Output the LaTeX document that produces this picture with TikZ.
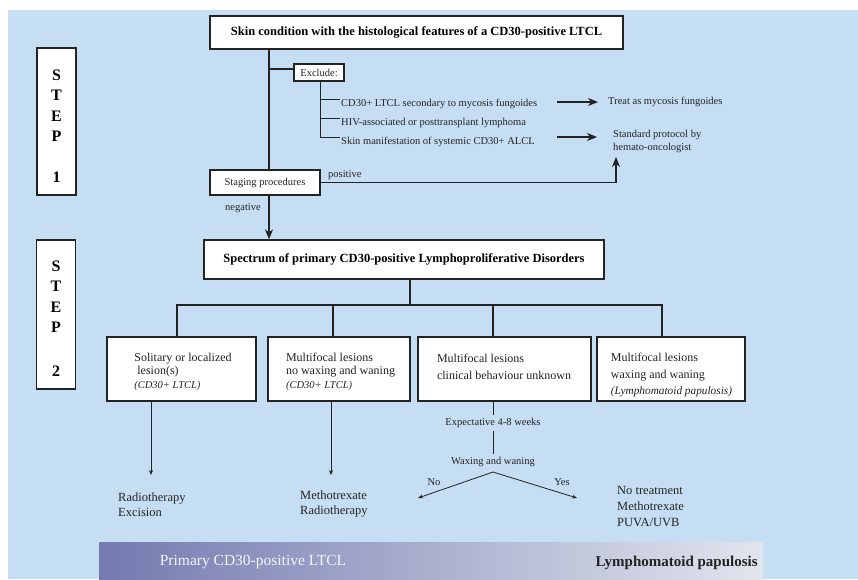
\documentclass[tikz,border=0pt]{standalone}
\usepackage{fontspec}
\setmainfont{Liberation Serif}
\usetikzlibrary{arrows.meta}
\definecolor{bgblue}{RGB}{197,222,243}
\definecolor{barL}{RGB}{116,122,176}
\definecolor{barR}{RGB}{226,229,237}
\definecolor{ink}{RGB}{35,35,35}
\begin{document}
\begin{tikzpicture}[x=1pt,y=-1pt,
  box/.style={draw=ink, line width=1.3pt, fill=white, inner sep=0pt},
  ln/.style={draw=ink, line width=1.2pt},
  thin/.style={draw=ink, line width=0.8pt},
  bigarrow/.style={-{Stealth[length=10pt,width=8pt,inset=3pt]}},
  smallarrow/.style={-{Stealth[length=5pt,width=4pt]}},
  ttl/.style={font=\bfseries\fontsize{12.5}{14}\selectfont},
  sm/.style={font=\fontsize{10.5}{12.5}\selectfont, text=ink, inner sep=1pt},
  mid/.style={font=\fontsize{12}{13.5}\selectfont, text=ink, align=left, inner sep=0pt},
  trt/.style={font=\fontsize{12.5}{15}\selectfont, text=ink, align=left, inner sep=0pt, anchor=west},
  steptxt/.style={font=\bfseries\fontsize{16}{20.5}\selectfont, align=center, inner sep=0pt}
]
\useasboundingbox (0,0) rectangle (858,579);
\fill[white] (0,0) rectangle (858,579);
\fill[bgblue] (8,10) rectangle (858,579);

% STEP boxes
\node[box, minimum width=39pt, minimum height=147pt] (s1box) at (56.5,121.5) {};
\node[steptxt] (s1txt) at (56.5,126) {S\\T\\E\\P\\[20pt]1};
\node[box, minimum width=39pt, minimum height=149pt] (s2box) at (56,314.5) {};
\node[steptxt] (s2txt) at (56,318.5) {S\\T\\E\\P\\[23pt]2};

% top box
\node[box, ttl, minimum width=413pt, minimum height=33pt] (top) at (416.5,32.5)
  {Skin condition with the histological features of a CD30-positive LTCL};

\coordinate (v) at (269,0);

% exclude box
\node[box, sm, minimum width=50pt, minimum height=17pt, inner sep=0pt] (excl) at (319,72.5) {Exclude:};
\node[sm, anchor=west] (i1) at (340,104) {CD30+ LTCL secondary to mycosis fungoides};
\node[sm, anchor=west] (i2) at (340,123) {HIV-associated or posttransplant lymphoma};
\node[sm, anchor=west] (i3) at (340,142) {Skin manifestation of systemic CD30+ ALCL};
\coordinate (t1) at ([yshift=4.5pt]i1.west);
\coordinate (t2) at ([yshift=4.5pt]i2.west);
\coordinate (t3) at ([yshift=4.5pt]i3.west);
\coordinate (ex) at (320,0);

\node[sm, anchor=west] (treat) at (607,102) {Treat as mycosis fungoides};
\node[sm, anchor=west, align=left, font=\fontsize{10.5}{13}\selectfont] (std) at (612,141.5) {Standard protocol by\\hemato-oncologist};

% staging
\node[box, sm, minimum width=110pt, minimum height=25pt] (stage) at (265,182.5) {Staging procedures};
\node[sm, anchor=west] (pos) at (327,175) {positive};
\node[sm] (neg) at (243,208) {negative};

% spectrum
\node[box, ttl, minimum width=400pt, minimum height=39pt] (spec) at (404,259.5)
  {Spectrum of primary CD30-positive Lymphoproliferative Disorders};

% connectors step 1
\draw[ln] (top.south -| v) -- (stage.north -| v);
\draw[ln] ([yshift=3.5pt]excl.west -| v) -- ([yshift=3.5pt]excl.west);
\draw[thin] (excl.south -| ex) -- (t3 -| ex) -- (t3);
\draw[thin] (t1 -| ex) -- (t1);
\draw[thin] (t2 -| ex) -- (t2);
\coordinate (a1s) at (557,102);
\coordinate (a2s) at (557,137);
\draw[ln, bigarrow, shorten >=9pt] (a1s) -- (treat.west);
\draw[ln, bigarrow] (a2s) -- (597,137);
\coordinate (a3e) at (616,157);
\draw[ln, bigarrow] (stage.east) -| (a3e);
\draw[ln, bigarrow] (stage.south -| v) -- (spec.north -| v);

% four boxes
\node[box, minimum width=149pt, minimum height=64pt] (b1) at (181.5,369) {};
\node[box, minimum width=142pt, minimum height=64pt] (b2) at (339,369) {};
\node[box, minimum width=173pt, minimum height=64pt] (b3) at (504.5,369) {};
\node[box, minimum width=148pt, minimum height=64pt] (b4) at (671,369) {};
\node[mid, font=\fontsize{12}{13.5}\selectfont] (bt1) at (183,371.5) {Solitary or localized\\\ lesion(s)\\{\itshape\fontsize{10.5}{12}\selectfont (CD30+ LTCL)}};
\node[mid, font=\fontsize{12}{13.5}\selectfont] (bt2) at (340.5,371.5) {Multifocal lesions\\no waxing and waning\\{\itshape\fontsize{10.5}{12}\selectfont (CD30+ LTCL)}};
\node[mid, font=\fontsize{12}{17}\selectfont] (bt3) at (504,366.5) {Multifocal lesions\\clinical behaviour unknown};
\node[mid, font=\fontsize{12}{17}\selectfont] (bt4) at (671.5,375) {Multifocal lesions\\waxing and waning\\[-1pt]{\itshape\fontsize{11.3}{12}\selectfont (Lymphomatoid papulosis)}};

\coordinate (h) at (410,305);
\coordinate (d1) at (177,305);
\coordinate (d2) at (333,305);
\coordinate (d3) at (493,305);
\coordinate (d4) at (662,305);
\draw[ln] (spec.south -| h) -- (h);
\draw[ln] (b1.north -| d1) -- (d1) -- (d4) -- (b4.north -| d4);
\draw[ln] (d2) -- (b2.north -| d2);
\draw[ln] (d3) -- (b3.north -| d3);

% treatments
\coordinate (x1) at (151,475);
\coordinate (x2) at (331,475);
\draw[thin, smallarrow] (b1.south -| x1) -- (x1);
\draw[thin, smallarrow] (b2.south -| x2) -- (x2);
\node[trt] (r1) at (118,504.5) {Radiotherapy\\Excision};
\node[trt] (r2) at (300,504.5) {Methotrexate\\Radiotherapy};
\node[trt, font=\fontsize{12.5}{16}\selectfont] (r4) at (617,506) {No treatment\\Methotrexate\\PUVA/UVB};

\node[sm, inner sep=3pt] (exp) at (493,423) {Expectative 4-8 weeks};
\node[sm, inner sep=3pt] (wax) at (493,462) {Waxing and waning};
\draw[thin] (b3.south -| d3) -- (exp.north -| d3);
\draw[thin] (exp.south -| d3) -- (wax.north -| d3);
\coordinate (ap) at (493,472);
\coordinate (no) at (418,498);
\coordinate (yes) at (577,498);
\draw[thin, smallarrow] (ap) -- (no);
\draw[thin, smallarrow] (ap) -- (yes);
\node[sm] (nol) at (434,482) {No};
\node[sm] (yesl) at (562,482) {Yes};

% bottom bar
\shade[left color=barL, right color=barR] (99,542) rectangle (763,579);
\node[font=\fontsize{15.5}{17}\selectfont, text=white!92!barL] (bar1) at (253,562) {Primary CD30-positive LTCL};
\node[font=\bfseries\fontsize{15}{17}\selectfont, text=ink, anchor=west] (bar2) at (592,563) {Lymphomatoid papulosis};
\end{tikzpicture}
\end{document}
